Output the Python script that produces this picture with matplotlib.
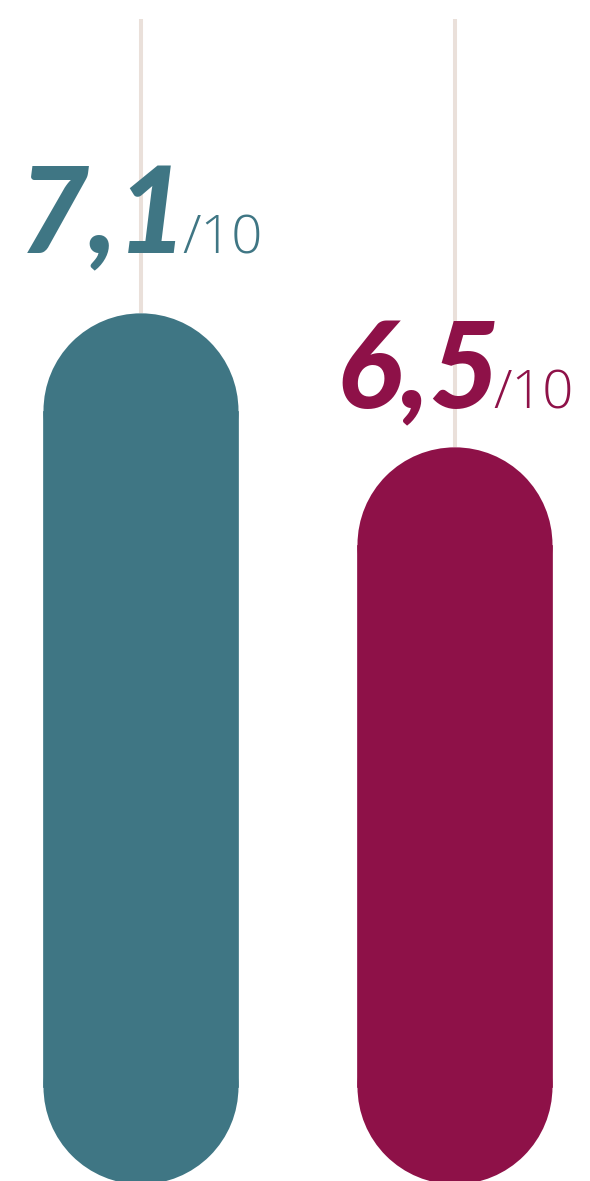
import matplotlib
matplotlib.use("Agg")
import matplotlib.pyplot as plt
from matplotlib.patches import Rectangle, Ellipse

# ---- data ----
categories = ["A", "B"]
scores = [7.1, 6.5]
score_labels = ["7,1", "6,5"]
suffix = "/10"

# ---- style / layout ----
colors = ["#3F7684", "#8E1148"]
line_color = "#EAE0DA"
W, H, DPI = 590, 1181, 100
x_lim = (-0.449, 1.430)
y_lim = (3.215, 8.503)
bar_base = 3.20
line_top = 8.42
bar_width = 0.621
label_offsets_px = [60, 39]

fig = plt.figure(figsize=(W / DPI, H / DPI), dpi=DPI)
ax = fig.add_axes([0, 0, 1, 1])
ax.set_xlim(*x_lim)
ax.set_ylim(*y_lim)
ax.axis("off")

ppx = W / (x_lim[1] - x_lim[0])
ppy = H / (y_lim[1] - y_lim[0])
aspect = ppx / ppy

xs = list(range(len(categories)))
for i, (x, v, c) in enumerate(zip(xs, scores, colors)):
    ax.plot([x, x], [v, line_top], color=line_color, lw=2.9, zorder=1,
            solid_capstyle="butt")
    cap_h = bar_width * aspect
    ax.add_patch(Rectangle((x - bar_width / 2, bar_base + cap_h / 2), bar_width,
                           (v - bar_base) - cap_h, fc=c, ec=c, lw=0.5, zorder=2))
    ax.add_patch(Ellipse((x, v - cap_h / 2), bar_width, cap_h, fc=c, ec="none", zorder=2))
    ax.add_patch(Ellipse((x, bar_base + cap_h / 2), bar_width, cap_h, fc=c, ec="none", zorder=2))

fig.canvas.draw()
renderer = fig.canvas.get_renderer()
for i, (x, v, c, lab) in enumerate(zip(xs, scores, colors, score_labels)):
    off = label_offsets_px[i] * 72 / DPI
    t1 = ax.annotate(lab, xy=(x, v), xytext=(0, off), textcoords="offset points",
                     ha="left", va="baseline", color=c, fontsize=87,
                     fontfamily="Lato", fontweight="black", fontstyle="italic")
    t2 = ax.annotate(suffix, xy=(x, v), xytext=(0, off), textcoords="offset points",
                     ha="left", va="baseline", color=c, fontsize=39,
                     fontfamily="Open Sans", fontweight="light")
    w1 = t1.get_window_extent(renderer).width
    w2 = t2.get_window_extent(renderer).width
    gap = -6
    start = -(w1 + gap + w2) / 2
    t1.set_position((start * 72 / DPI, off))
    t2.set_position(((start + w1 + gap) * 72 / DPI, off))

fig.savefig("out.png", dpi=DPI)
